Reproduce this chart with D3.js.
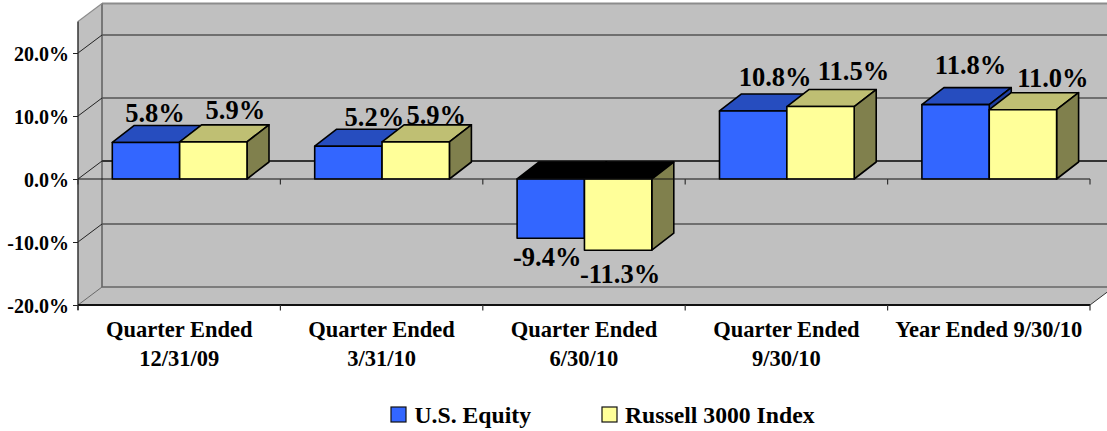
<!DOCTYPE html>
<html>
<head>
<meta charset="utf-8">
<style>
html,body{margin:0;padding:0;background:#fff;overflow:hidden}
svg{display:block}
text{font-family:"Liberation Serif",serif;font-weight:bold;fill:#000}
</style>
<script src="https://cdn.jsdelivr.net/npm/d3@7"></script>
</head>
<body>
<script>
const categories = ["Quarter Ended|12/31/09","Quarter Ended|3/31/10","Quarter Ended|6/30/10","Quarter Ended|9/30/10","Year Ended 9/30/10"];
const seriesNames = ["U.S. Equity","Russell 3000 Index"];
const usEquity = [5.8,5.2,-9.4,10.8,11.8];
const russell3000 = [5.9,5.9,-11.3,11.5,11.0];
const yTicks = [-20,-10,0,10,20];

// ---- layout and style ----
const W=1107,H=431;
const depthX=24,depthY=18,barDX=22,barDY=17;
const left=78,right=1090,bottom=305;
const colors=[{front:"#3366FF",top:"#264DBF",side:"#1F3FA0"},{front:"#FFFF99",top:"#BFBF73",side:"#80804D"}];
// label offsets from each bar's scale position, per series per category
const nudges=[
 [[9,-20.5],[26,-20],[-3.5,28],[22,-25],[15,-30.7]],
 [[22,-23],[20.5,-18],[2,33],[33,-26.5],[30,-22.7]]
];

const y=d3.scaleLinear().domain([-20,25]).range([bottom,21.5]);
const x0=d3.scaleBand().domain(categories).range([left,right]);
const x1=d3.scaleBand().domain(seriesNames).range([34.3,169]);
const values=[usEquity,russell3000];

const svg=d3.select("body").append("svg").attr("width",W).attr("height",H);
const top25=y(25);

// walls
const wall=svg.append("g");
wall.append("rect").attr("x",left+depthX).attr("y",top25-depthY).attr("width",W).attr("height",bottom-top25)
  .attr("fill","#C0C0C0");
wall.append("path").attr("fill","#C0C0C0")
  .attr("d",`M${left},${top25}L${left+depthX},${top25-depthY}V${bottom-depthY}L${left},${bottom}Z`);
wall.append("path").attr("fill","#C0C0C0")
  .attr("d",`M${left},${bottom}L${left+depthX},${bottom-depthY}H${right+depthX}L${right},${bottom}Z`);
wall.append("line").attr("x1",left+depthX).attr("x2",W).attr("y1",top25-depthY).attr("y2",top25-depthY)
  .attr("stroke","#8C8C8C").attr("stroke-width",2);
wall.append("line").attr("x1",left+depthX).attr("x2",left+depthX).attr("y1",top25-depthY).attr("y2",bottom-depthY)
  .attr("stroke","#777").attr("stroke-width",2);
wall.append("line").attr("x1",left).attr("x2",left+depthX).attr("y1",top25).attr("y2",top25-depthY)
  .attr("stroke","#8C8C8C").attr("stroke-width",1.2);

// gridlines
const gridG=svg.append("g");
yTicks.forEach(t=>{
  const py=y(t);
  gridG.append("line").attr("x1",left+depthX).attr("x2",W).attr("y1",py-depthY).attr("y2",py-depthY)
    .attr("stroke",t===0?"#333":(t===-20?"#666":"#555")).attr("stroke-width",t===0?2:1.6);
  gridG.append("line").attr("x1",left).attr("x2",left+depthX).attr("y1",py).attr("y2",py-depthY)
    .attr("stroke",t===-20?"#666":"#222").attr("stroke-width",1);
});
gridG.append("line").attr("x1",right).attr("x2",right+depthX).attr("y1",bottom).attr("y2",bottom-depthY)
  .attr("stroke","#333").attr("stroke-width",1);

// y axis
const yAxis=svg.append("g").attr("transform",`translate(${left},0)`)
  .call(d3.axisLeft(y).tickValues(yTicks).tickSize(5).tickPadding(4).tickFormat(d=>d.toFixed(1)+"%"));
yAxis.select(".domain").attr("stroke","#333").attr("stroke-width",1.5).attr("d",`M0,${top25}V${bottom+5}`);
yAxis.selectAll(".tick line").attr("stroke","#222");
yAxis.selectAll("text").attr("font-size",20).attr("font-family",null).attr("dy",7.5);

const catEdges=categories.map(c=>x0(c)).concat(right);
function baseline(py,w){
  svg.append("line").attr("x1",left).attr("x2",right).attr("y1",py).attr("y2",py).attr("stroke","#111").attr("stroke-width",w);
  svg.selectAll(null).data(catEdges).enter().append("line")
    .attr("x1",d=>d).attr("x2",d=>d).attr("y1",py).attr("y2",py+5.5).attr("stroke","#333").attr("stroke-width",1.2);
}
baseline(y(-20),2);

// bars
const barsG=svg.append("g");
categories.forEach((c,ci)=>{
  seriesNames.forEach((s,si)=>{
    const v=values[si][ci];
    const xa=x0(c)+x1(s), xb=xa+x1.bandwidth();
    const ya=y(Math.max(v,0)), yb=y(Math.min(v,0));
    const col=colors[si];
    const g=barsG.append("g").attr("stroke","#000").attr("stroke-width",1.6).attr("stroke-linejoin","round");
    g.append("path").attr("fill",v<0?"#000":col.top)
      .attr("d",`M${xa},${ya}L${xa+barDX},${ya-barDY}H${xb+barDX}L${xb},${ya}Z`);
    g.append("path").attr("fill",v<0&&si===0?"#000":col.side)
      .attr("d",`M${xb},${ya}L${xb+barDX},${ya-barDY}V${yb-barDY}L${xb},${yb}Z`);
    g.append("rect").attr("x",xa).attr("y",ya).attr("width",xb-xa).attr("height",yb-ya).attr("fill",col.front);
  });
});

// zero line over the bars
svg.append("line").attr("x1",left).attr("x2",right).attr("y1",y(0)).attr("y2",y(0)).attr("stroke","#111").attr("stroke-width",1.2);
svg.selectAll(null).data(catEdges).enter().append("line")
  .attr("x1",d=>d).attr("x2",d=>d).attr("y1",y(0)).attr("y2",y(0)+5.5).attr("stroke","#333").attr("stroke-width",1.2);

// data labels
seriesNames.forEach((s,si)=>{
  svg.append("g").selectAll("text").data(values[si]).enter().append("text")
    .attr("text-anchor","middle").attr("font-size",26.5)
    .attr("x",(d,i)=>x0(categories[i])+x1(s)+x1.bandwidth()/2+nudges[si][i][0])
    .attr("y",(d,i)=>y(d)+nudges[si][i][1])
    .text(d=>d.toFixed(1)+"%");
});

// category labels
categories.forEach(c=>{
  const t=svg.append("text").attr("text-anchor","middle").attr("font-size",22.5)
    .attr("x",x0(c)+x0.bandwidth()/2).attr("y",337);
  c.split("|").forEach((ln,i)=>t.append("tspan").attr("x",x0(c)+x0.bandwidth()/2).attr("dy",i?29:0).text(ln));
});

// legend
const legendPos=[{sx:391,tx:414.5},{sx:602,tx:625}];
seriesNames.forEach((s,i)=>{
  svg.append("rect").attr("x",legendPos[i].sx).attr("y",407).attr("width",15).attr("height",15)
    .attr("fill",colors[i].front).attr("stroke","#111").attr("stroke-width",1.2);
  svg.append("text").attr("x",legendPos[i].tx).attr("y",423).attr("font-size",23.7).text(s);
});
</script>
</body>
</html>
